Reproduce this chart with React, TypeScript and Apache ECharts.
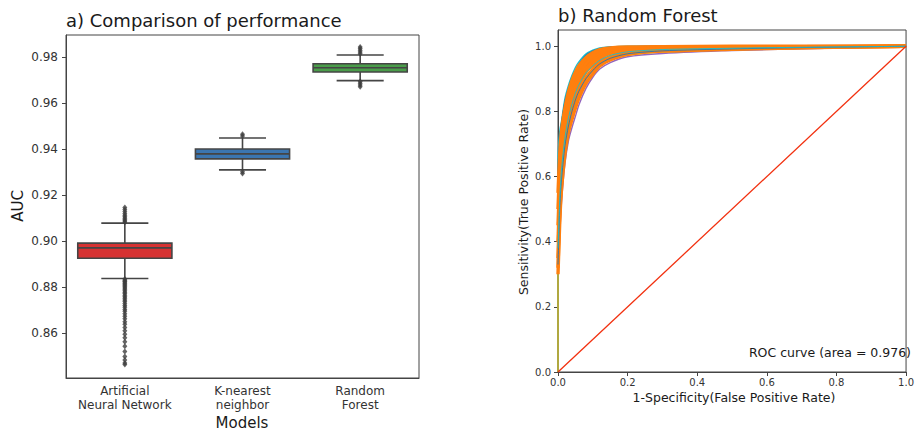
import React, { useEffect, useRef } from "react";
import * as echarts from "echarts";

// ---- Panel a: AUC distribution per model ----
const models = ["Artificial\nNeural Network", "K-nearest\nneighbor", "Random\nForest"];
const boxColors = ["#d63232", "#3b76b1", "#4a9d4a"];
const whiskerLow = [0.8837, 0.931, 0.9699];
const q1 = [0.8925, 0.9358, 0.9737];
const median = [0.897, 0.938, 0.9755];
const q3 = [0.8991, 0.9401, 0.9773];
const whiskerHigh = [0.9078, 0.9449, 0.9811];
const annOutliers = [
  0.8834, 0.8829, 0.8825, 0.8821, 0.8816, 0.8812, 0.8806, 0.8801, 0.8795, 0.879,
  0.8783, 0.8777, 0.8771, 0.8764, 0.8757, 0.8751, 0.8743, 0.8736, 0.8728, 0.8719,
  0.8711, 0.8702, 0.8694, 0.8683, 0.8672, 0.8661, 0.8648, 0.8637, 0.8623, 0.8609,
  0.8594, 0.8578, 0.8561, 0.8541, 0.8519, 0.8497, 0.8481, 0.8468, 0.8462,
  0.9082, 0.9087, 0.9093, 0.9099, 0.9106, 0.9112, 0.912, 0.9129, 0.9137, 0.9146,
];
const knnOutliers = [0.9458, 0.9465, 0.9302, 0.9294];
const rfOutliers = [0.9816, 0.9824, 0.9831, 0.9839, 0.9846, 0.9695, 0.9688, 0.968, 0.9672];
const aucTicks = [0.86, 0.88, 0.9, 0.92, 0.94, 0.96, 0.98];

// ---- Panel b: Random Forest ROC curves (one per repetition) ----
const fprGrid = [0, 0, 0.005, 0.01, 0.02, 0.03, 0.04, 0.05, 0.06, 0.08, 0.1, 0.12, 0.15, 0.2, 0.3, 0.5, 0.7, 1];
const foldColors = ["#17becf", "#1f77b4", "#2ca02c", "#d62728", "#9467bd", "#8c564b", "#e377c2", "#7f7f7f", "#bcbd22"];
const foldTpr = [
  [0, 0.65, 0.74, 0.77, 0.84, 0.88, 0.91, 0.935, 0.952, 0.976, 0.988, 0.995, 0.998, 1.0, 1.0, 1.0, 1.0, 1],
  [0, 0.6, 0.71, 0.76, 0.83, 0.87, 0.9, 0.925, 0.945, 0.972, 0.985, 0.992, 0.997, 0.999, 1.0, 1.0, 1.0, 1],
  [0, 0.5, 0.64, 0.72, 0.8, 0.85, 0.885, 0.91, 0.93, 0.96, 0.975, 0.985, 0.992, 0.996, 0.998, 0.999, 1.0, 1],
  [0, 0.45, 0.6, 0.68, 0.77, 0.82, 0.86, 0.89, 0.91, 0.94, 0.96, 0.975, 0.985, 0.99, 0.995, 0.997, 0.999, 1],
  [0, 0.25, 0.42, 0.52, 0.64, 0.71, 0.75, 0.785, 0.82, 0.87, 0.905, 0.93, 0.95, 0.968, 0.978, 0.987, 0.992, 1],
  [0, 0.35, 0.5, 0.6, 0.7, 0.76, 0.8, 0.84, 0.865, 0.9, 0.925, 0.945, 0.962, 0.975, 0.985, 0.99, 0.995, 1],
  [0, 0.4, 0.55, 0.64, 0.73, 0.79, 0.83, 0.86, 0.885, 0.92, 0.94, 0.958, 0.97, 0.982, 0.99, 0.994, 0.997, 1],
  [0, 0.55, 0.66, 0.73, 0.81, 0.855, 0.89, 0.915, 0.935, 0.962, 0.978, 0.988, 0.994, 0.997, 0.999, 1.0, 1.0, 1],
  [0, 0.3, 0.47, 0.57, 0.68, 0.74, 0.785, 0.82, 0.85, 0.89, 0.915, 0.94, 0.958, 0.972, 0.982, 0.989, 0.994, 1],
];
const orangeTpr = [
  [0, 0.55, 0.67, 0.74, 0.81, 0.86, 0.895, 0.92, 0.94, 0.965, 0.98, 0.99, 0.995, 0.998, 0.999, 1.0, 1.0, 1],
  [0, 0.5, 0.63, 0.71, 0.79, 0.84, 0.875, 0.905, 0.925, 0.955, 0.972, 0.984, 0.992, 0.995, 0.997, 0.998, 0.999, 1],
  [0, 0.45, 0.59, 0.67, 0.76, 0.815, 0.855, 0.885, 0.91, 0.945, 0.965, 0.978, 0.988, 0.993, 0.996, 0.997, 0.999, 1],
  [0, 0.4, 0.55, 0.63, 0.73, 0.79, 0.835, 0.87, 0.895, 0.93, 0.955, 0.97, 0.982, 0.99, 0.994, 0.996, 0.998, 1],
  [0, 0.35, 0.52, 0.6, 0.71, 0.77, 0.815, 0.85, 0.88, 0.92, 0.945, 0.963, 0.978, 0.986, 0.992, 0.995, 0.998, 1],
  [0, 0.32, 0.49, 0.58, 0.69, 0.752, 0.795, 0.83, 0.86, 0.902, 0.93, 0.951, 0.968, 0.98, 0.988, 0.993, 0.996, 1],
  [0, 0.3, 0.46, 0.56, 0.67, 0.735, 0.775, 0.81, 0.84, 0.885, 0.915, 0.94, 0.958, 0.975, 0.985, 0.991, 0.995, 1],
];
// a few repetitions that end up drawn over the orange ones
const lateColors = ["#1f77b4", "#17becf"];
const lateTpr = [
  [0, 0.33, 0.5, 0.59, 0.695, 0.755, 0.8, 0.835, 0.862, 0.9, 0.926, 0.946, 0.963, 0.977, 0.986, 0.992, 0.996, 1],
  [0, 0.38, 0.53, 0.62, 0.72, 0.78, 0.822, 0.856, 0.882, 0.918, 0.94, 0.957, 0.972, 0.983, 0.99, 0.994, 0.997, 1],
];
const chanceLine = [[0, 0], [1, 1]];
const rateTicks = [0, 0.2, 0.4, 0.6, 0.8, 1.0];
const rocArea = 0.976;

const FONT = "DejaVu Sans";
const AXIS = "#444444";
const TEXT = "#333333";

export default function App() {
  const ref = useRef<HTMLDivElement>(null);

  useEffect(() => {
    if (!ref.current) return;
    const chart = echarts.init(ref.current, null, { renderer: "svg" });

    const boxData = models.map((_, i) => [i, whiskerLow[i], q1[i], median[i], q3[i], whiskerHigh[i]]);
    const outlierData = [
      ...annOutliers.map((v) => [0, v]),
      ...knnOutliers.map((v) => [1, v]),
      ...rfOutliers.map((v) => [2, v]),
    ];

    const rocLine = (data: number[][], color: string, width: number, z: number) => ({
      type: "line",
      xAxisIndex: 1,
      yAxisIndex: 1,
      data,
      showSymbol: false,
      smooth: 0.25,
      lineStyle: { color, width },
      z,
    });

    const rocSeries: any[] = [];
    foldTpr.forEach((tpr, k) => {
      rocSeries.push(rocLine(fprGrid.map((f, j) => [f, tpr[j]]), foldColors[k], 1.4, 3));
    });
    // thick orange curves; the segment along the y axis is left to the thin ones
    orangeTpr.forEach((tpr) => {
      rocSeries.push(rocLine(fprGrid.slice(1).map((f, j) => [f, tpr[j + 1]]), "#ff7f0e", 3.4, 4));
    });
    lateTpr.forEach((tpr, k) => {
      rocSeries.push(rocLine(fprGrid.slice(1).map((f, j) => [f, tpr[j + 1]]), lateColors[k], 0.9, 5));
    });
    rocSeries.push({
      type: "line",
      xAxisIndex: 1,
      yAxisIndex: 1,
      data: chanceLine,
      showSymbol: false,
      lineStyle: { color: "#f2300f", width: 1.3 },
      z: 6,
    });

    const gridBorder = { show: true, borderColor: AXIS, borderWidth: 1, backgroundColor: "#ffffff" };

    chart.setOption({
      animation: false,
      backgroundColor: "#ffffff",
      textStyle: { fontFamily: FONT },
      title: [
        {
          text: "a) Comparison of performance",
          left: 66,
          top: 11,
          textStyle: { fontFamily: FONT, fontSize: 18, fontWeight: "normal", color: "#1a1a1a" },
          padding: 0,
        },
        {
          text: "b) Random Forest",
          left: 558,
          top: 6,
          textStyle: { fontFamily: FONT, fontSize: 18, fontWeight: "normal", color: "#1a1a1a" },
          padding: 0,
        },
      ],
      grid: [
        { left: 66, top: 35, width: 353, height: 343, ...gridBorder },
        { left: 558, top: 30, width: 352, height: 342, ...gridBorder },
      ],
      xAxis: [
        {
          type: "category",
          gridIndex: 0,
          data: models,
          boundaryGap: true,
          axisLine: { lineStyle: { color: AXIS } },
          axisTick: { alignWithLabel: true, interval: 0, length: 4, lineStyle: { color: AXIS } },
          axisLabel: { interval: 0, fontFamily: FONT, fontSize: 12, lineHeight: 14, color: TEXT, margin: 6 },
        },
        {
          type: "value",
          gridIndex: 1,
          min: 0,
          max: 1,
          interval: 0.2,
          splitLine: { show: false },
          axisLine: { lineStyle: { color: AXIS } },
          axisTick: { length: 4, lineStyle: { color: AXIS } },
          axisLabel: {
            fontFamily: FONT,
            fontSize: 10,
            color: TEXT,
            margin: 5,
            formatter: (v: number) => v.toFixed(1),
          },
        },
      ],
      yAxis: [
        {
          type: "value",
          gridIndex: 0,
          min: 0.8403,
          max: 0.9898,
          splitLine: { show: false },
          axisLine: { show: true, lineStyle: { color: AXIS } },
          axisTick: { show: true, length: 4, customValues: aucTicks, lineStyle: { color: AXIS } },
          axisLabel: {
            fontFamily: FONT,
            fontSize: 12,
            color: TEXT,
            margin: 8,
            customValues: aucTicks,
            formatter: (v: number) => v.toFixed(2),
          },
        },
        {
          type: "value",
          gridIndex: 1,
          min: 0,
          max: 1.05,
          splitLine: { show: false },
          axisLine: { show: true, lineStyle: { color: AXIS } },
          axisTick: { show: true, length: 4, customValues: rateTicks, lineStyle: { color: AXIS } },
          axisLabel: {
            fontFamily: FONT,
            fontSize: 10,
            color: TEXT,
            margin: 7,
            customValues: rateTicks,
            formatter: (v: number) => v.toFixed(1),
          },
        },
      ],
      series: [
        {
          type: "custom",
          xAxisIndex: 0,
          yAxisIndex: 0,
          data: boxData,
          encode: { x: 0, y: [1, 2, 3, 4, 5] },
          renderItem: (params: any, api: any) => {
            const idx = api.value(0);
            const lo = api.coord([idx, api.value(1)]);
            const b1 = api.coord([idx, api.value(2)]);
            const md = api.coord([idx, api.value(3)]);
            const b3 = api.coord([idx, api.value(4)]);
            const hi = api.coord([idx, api.value(5)]);
            const band = api.size([1, 0])[0];
            const bw = band * 0.8;
            const cw = band * 0.4;
            const cx = lo[0];
            const stroke = "#454545";
            const ls = { stroke, lineWidth: 1.6 };
            return {
              type: "group",
              children: [
                { type: "line", shape: { x1: cx, y1: hi[1], x2: cx, y2: b3[1] }, style: ls },
                { type: "line", shape: { x1: cx, y1: b1[1], x2: cx, y2: lo[1] }, style: ls },
                { type: "line", shape: { x1: cx - cw / 2, y1: hi[1], x2: cx + cw / 2, y2: hi[1] }, style: ls },
                { type: "line", shape: { x1: cx - cw / 2, y1: lo[1], x2: cx + cw / 2, y2: lo[1] }, style: ls },
                {
                  type: "rect",
                  shape: { x: cx - bw / 2, y: b3[1], width: bw, height: b1[1] - b3[1] },
                  style: { fill: boxColors[params.dataIndex], stroke, lineWidth: 1.6 },
                },
                { type: "line", shape: { x1: cx - bw / 2, y1: md[1], x2: cx + bw / 2, y2: md[1] }, style: ls },
              ],
            };
          },
          z: 2,
        },
        {
          type: "scatter",
          xAxisIndex: 0,
          yAxisIndex: 0,
          data: outlierData,
          symbol: "diamond",
          symbolSize: [5, 6],
          itemStyle: { color: "#3d3d3d" },
          z: 3,
        },
        ...rocSeries,
      ],
      graphic: [
        {
          type: "text",
          x: 18,
          y: 206,
          rotation: Math.PI / 2,
          style: {
            text: "AUC",
            fontFamily: FONT,
            fontSize: 15,
            fill: "#1a1a1a",
            textAlign: "center",
            textVerticalAlign: "middle",
          },
        },
        {
          type: "text",
          x: 242,
          y: 423,
          style: {
            text: "Models",
            fontFamily: FONT,
            fontSize: 15,
            fill: "#1a1a1a",
            textAlign: "center",
            textVerticalAlign: "middle",
          },
        },
        {
          type: "text",
          x: 523,
          y: 202,
          rotation: Math.PI / 2,
          style: {
            text: "Sensitivity(True Positive Rate)",
            fontFamily: FONT,
            fontSize: 12.5,
            fill: "#1a1a1a",
            textAlign: "center",
            textVerticalAlign: "middle",
          },
        },
        {
          type: "text",
          x: 734,
          y: 397,
          style: {
            text: "1-Specificity(False Positive Rate)",
            fontFamily: FONT,
            fontSize: 12.5,
            fill: "#1a1a1a",
            textAlign: "center",
            textVerticalAlign: "middle",
          },
        },
        {
          type: "text",
          x: 911,
          y: 352,
          z: 10,
          style: {
            text: `ROC curve (area = ${rocArea.toFixed(3)})`,
            fontFamily: FONT,
            fontSize: 12.5,
            fill: "#1a1a1a",
            textAlign: "right",
            textVerticalAlign: "middle",
          },
        },
      ],
    });

    return () => chart.dispose();
  }, []);

  return (
    <div
      ref={ref}
      style={{ position: "fixed", left: 0, top: 0, width: 917, height: 431, background: "#ffffff" }}
    />
  );
}
